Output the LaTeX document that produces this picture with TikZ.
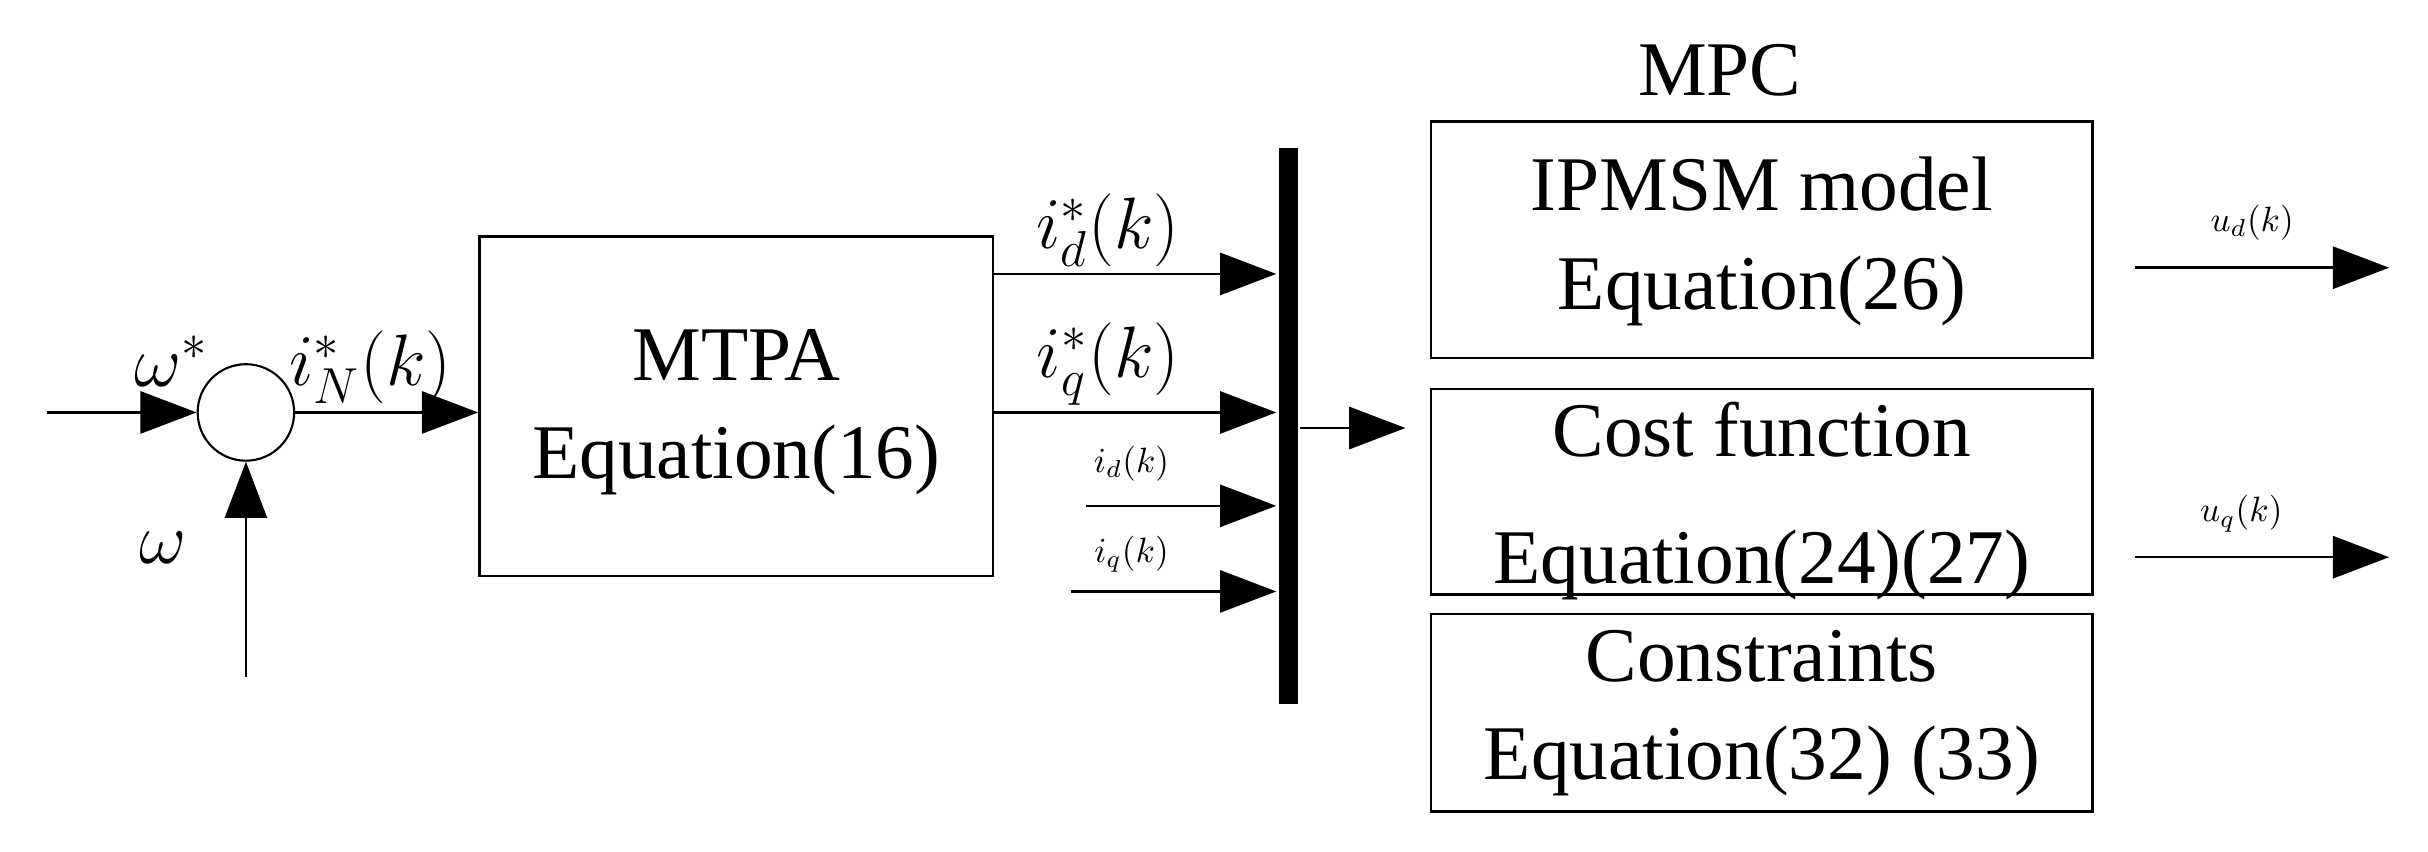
\documentclass[tikz,border=0pt]{standalone}
\usepackage{fontspec}
\setmainfont{Liberation Serif}
\usetikzlibrary{arrows.meta}
\tikzset{
  blk/.style={draw, line width=0.7pt, inner sep=0pt},
  sig/.style={line width=0.7pt, -{Triangle[length=16pt,width=12pt]}},
  big/.style={font=\fontsize{22}{28}\selectfont, align=center},
  lbl/.style={font=\fontsize{22}{24}\selectfont},
  sml/.style={font=\fontsize{10}{11}\selectfont}
}
\begin{document}
\begin{tikzpicture}[x=0.01556cm, y=-0.01556cm]
\useasboundingbox (0,0) rectangle (1560,547);

% summing junction
\node[draw, circle, minimum size=62*0.01556cm, inner sep=0pt, line width=0.6pt] (sum) at (158,265) {};
\coordinate (win) at (30,265);
\coordinate (wfb) at (158,435);
\draw[sig] (win) -- (sum.west);
\draw[sig] (wfb) -- (sum.south);
\node[lbl] (wref) at (110,232) {$\omega^{*}$};
\node[lbl] (wact) at (105,352) {$\omega$};

% MTPA block
\node[blk, minimum width=330*0.01556cm, minimum height=218*0.01556cm] (mtpa) at (473,261) {};
\node[big] (mtpatxt) at (473,265) {MTPA\\Equation(16)};
\draw[sig] (sum.east) -- (mtpa.west |- sum.east);
\node[lbl] (iN) at (238,236) {$i_N^{*}(k)$};

% mux bar
\draw[line width=12*0.01556cm] (828,95) coordinate (bartop) -- (828,452) coordinate (barbot);
\coordinate (m1) at (820,176);
\coordinate (m2) at (820,265);
\coordinate (m3) at (820,325);
\coordinate (m4) at (820,380);
\draw[sig] (mtpa.east |- m1) -- (m1);
\draw[sig] (mtpa.east |- m2) -- (m2);
\draw[sig] (698,325) coordinate (id0) -- (m3);
\draw[sig] (688,380) coordinate (iq0) -- (m4);
\node[lbl] (idref) at (712,148) {$i_d^{*}(k)$};
\node[lbl] (iqref) at (712,234) {$i_q^{*}(k)$};
\node[sml] (idm) at (727,298) {$i_d(k)$};
\node[sml] (iqm) at (727,356) {$i_q(k)$};

% MPC blocks
\node[big] (mpc) at (1105,45) {MPC};
\node[blk, minimum width=425*0.01556cm, minimum height=152*0.01556cm] (model) at (1132,154) {};
\node[big] (modeltxt) at (1132,155) {IPMSM model\\Equation(26)};
\node[blk, minimum width=425*0.01556cm, minimum height=132*0.01556cm] (cost) at (1132,316) {};
\node[big] (costtxt) at (1132,322) {Cost function\\[8pt]Equation(24)(27)};
\node[blk, minimum width=425*0.01556cm, minimum height=127*0.01556cm] (cons) at (1132,458) {};
\node[big] (constxt) at (1132,458) {Constraints\\Equation(32) (33)};
\coordinate (mux) at (835,275);
\draw[sig] (mux) -- (903,275) coordinate (mpcin);

% outputs
\draw[sig] (1372,172) coordinate (ud0) -- (1535,172) coordinate (ud1);
\draw[sig] (1372,358) coordinate (uq0) -- (1535,358) coordinate (uq1);
\node[sml] (udl) at (1447,143) {$u_d(k)$};
\node[sml] (uql) at (1440,330) {$u_q(k)$};
\end{tikzpicture}
\end{document}
